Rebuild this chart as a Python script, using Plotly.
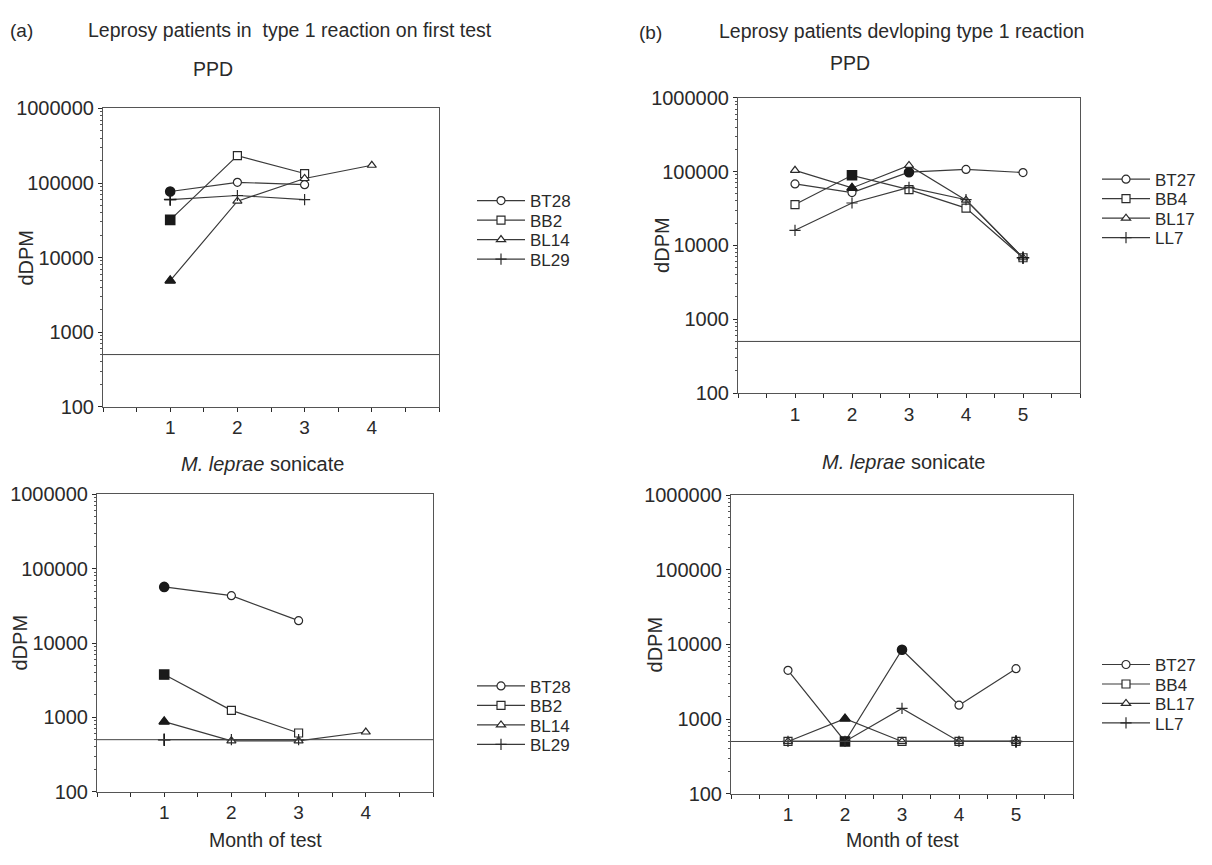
import plotly.graph_objects as go

W, H = 1212, 865

# ---------------- data ----------------
months_a = [1, 2, 3, 4]
months_b = [1, 2, 3, 4, 5]

patients_a = ["BT28", "BB2", "BL14", "BL29"]
patients_b = ["BT27", "BB4", "BL17", "LL7"]

# month at which the type 1 reaction was recorded (drawn as a filled symbol)
reaction_month_a = [1, 1, 1, 1]
reaction_month_b = [3, 2, 2, 5]

# (a) PPD
ppd_a_BT28 = [77000, 102000, 95000]
ppd_a_BB2 = [32000, 233000, 134000]
ppd_a_BL14 = [4900, 57000, 115000, 173000]
ppd_a_BL29 = [60000, 68000, 60000]

# (a) M. leprae sonicate
son_a_BT28 = [56900, 43300, 20000]
son_a_BB2 = [3760, 1240, 615]
son_a_BL14 = [875, 483, 483, 634]
son_a_BL29 = [500, 500, 500]

# (b) PPD
ppd_b_BT27 = [68000, 52000, 98000, 107000, 97000]
ppd_b_BB4 = [35700, 89000, 57000, 32000, 6800]
ppd_b_BL17 = [104000, 60000, 121000, 41000, 6800]
ppd_b_LL7 = [16000, 37500, 61000, 41600, 6800]

# (b) M. leprae sonicate
son_b_BT27 = [4500, 500, 8500, 1535, 4730]
son_b_BB4 = [500, 500, 500, 500, 500]
son_b_BL17 = [500, 1010, 500, 500, 500]
son_b_LL7 = [500, 500, 1390, 500, 500]

cutoff = 500

y_tick_values = [100, 1000, 10000, 100000, 1000000]
y_tick_labels = ["100", "1000", "10000", "100000", "1000000"]

# ---------------- styling / layout helpers ----------------
FONT = "Liberation Sans, Arial, Helvetica, sans-serif"
INK = "#2a2a2a"
symbols = ["circle", "square", "triangle-up", "cross-thin"]


def px(x):
    return x / W


def py(y):
    return 1 - y / H


# panel pixel boxes: (left, right, top, bottom)
panels = [
    dict(box=(103, 439, 100, 406), xmax=5, months=months_a, names=patients_a,
         react=reaction_month_a,
         series=[ppd_a_BT28, ppd_a_BB2, ppd_a_BL14, ppd_a_BL29],
         leg_x=497, leg_y0=195),
    dict(box=(738, 1080, 89, 392), xmax=6, months=months_b, names=patients_b,
         react=reaction_month_b,
         series=[ppd_b_BT27, ppd_b_BB4, ppd_b_BL17, ppd_b_LL7],
         leg_x=1122, leg_y0=173),
    dict(box=(97, 433, 496, 801), xmax=5, months=months_a, names=patients_a,
         react=reaction_month_a,
         series=[son_a_BT28, son_a_BB2, son_a_BL14, son_a_BL29],
         leg_x=497, leg_y0=693),
    dict(box=(731, 1073, 497, 803), xmax=6, months=months_b, names=patients_b,
         react=reaction_month_b,
         series=[son_b_BT27, son_b_BB4, son_b_BL17, son_b_LL7],
         leg_x=1122, leg_y0=671),
]
LEG_STEP = 20

fig = go.Figure()
layout = {}
shapes = []
legend_no = 0

for i, p in enumerate(panels):
    k = "" if i == 0 else str(i + 1)
    xa, ya = "x" + k, "y" + k
    left, right, top, bottom = p["box"]

    half_steps = [j * 0.5 for j in range(int(p["xmax"] * 2) + 1)]
    tick_text = [str(int(v)) if (v == int(v) and 0 < v < p["xmax"]) else "" for v in half_steps]

    layout["xaxis" + k] = dict(
        domain=[px(left), px(right)], anchor=ya, range=[0, p["xmax"]],
        tickmode="array", tickvals=half_steps, ticktext=tick_text,
        ticks="outside", ticklen=4, tickcolor=INK, tickwidth=1,
        showline=True, mirror=True, linecolor="#555", linewidth=1,
        showgrid=False, zeroline=False,
        tickfont=dict(family=FONT, size=19, color=INK),
    )
    minor_vals = [m * 10 ** e for e in range(2, 6) for m in range(2, 10)]
    layout["yaxis" + k] = dict(
        domain=[py(bottom), py(top)], anchor=xa, type="log", range=[2, 6],
        tickmode="array", tickvals=y_tick_values, ticktext=y_tick_labels,
        ticks="outside", ticklen=4, tickcolor=INK, tickwidth=1,
        minor=dict(tickmode="array", tickvals=minor_vals, ticks="outside",
                   ticklen=2, tickcolor="#555", tickwidth=1),
        showline=True, mirror=True, linecolor="#555", linewidth=1,
        showgrid=False, zeroline=False,
        tickfont=dict(family=FONT, size=20, color=INK),
    )

    # cutoff line
    shapes.append(dict(type="line", xref=xa + " domain", x0=0, x1=1,
                       yref=ya, y0=cutoff, y1=cutoff,
                       line=dict(color="#444", width=1)))

    for s, (name, vals) in enumerate(zip(p["names"], p["series"])):
        legend_no += 1
        lname = "legend" if legend_no == 1 else "legend" + str(legend_no)
        xs = p["months"][:len(vals)]
        sym = symbols[s]
        fig.add_trace(go.Scatter(
            x=xs, y=vals, mode="lines+markers", name=name,
            xaxis=xa, yaxis=ya, legend=lname,
            line=dict(color="#3a3a3a", width=1.2),
            marker=dict(symbol=sym, size=8, color="white",
                        line=dict(color="#2a2a2a", width=1.2)),
        ))
        # filled symbol at the reaction month
        rm = p["react"][s]
        if rm in xs:
            j = xs.index(rm)
            fig.add_trace(go.Scatter(
                x=[xs[j]], y=[vals[j]], mode="markers", showlegend=False,
                xaxis=xa, yaxis=ya,
                marker=dict(symbol=sym, size=9, color="#1a1a1a",
                            line=dict(color="#1a1a1a", width=1.6)),
            ))
        layout[lname] = dict(
            x=px(p["leg_x"] - 25), xanchor="left",
            y=py(p["leg_y0"] + s * LEG_STEP), yanchor="middle",
            bgcolor="rgba(0,0,0,0)", borderwidth=0, itemwidth=48,
            font=dict(family=FONT, size=17, color=INK),
        )

ann = []


def text(x, y, t, size=19, anchor="left", angle=0):
    ann.append(dict(xref="paper", yref="paper", x=px(x), y=py(y), text=t,
                    showarrow=False, xanchor=anchor, yanchor="middle",
                    textangle=angle,
                    font=dict(family=FONT, size=size, color=INK)))


text(8, 20, "(a)", 19)
text(86, 20, "Leprosy patients in&nbsp; type 1 reaction on first test", 19.5)
text(213, 60, "PPD", 19.5, "center")
text(637, 22, "(b)", 19)
text(717, 21, "Leprosy patients devloping type 1 reaction", 19.5)
text(850, 53, "PPD", 19.5, "center")
text(262, 465, "<i>M. leprae</i> sonicate", 20, "center")
text(903, 463, "<i>M. leprae</i> sonicate", 20, "center")
text(265, 851, "Month of test", 19.5, "center")
text(902, 851, "Month of test", 19.5, "center")
text(26, 253, "dDPM", 20, "center", -90)
text(662, 240, "dDPM", 20, "center", -90)
text(20, 648, "dDPM", 20, "center", -90)
text(655, 650, "dDPM", 20, "center", -90)

fig.update_layout(
    width=W, height=H, margin=dict(l=0, r=0, t=0, b=0),
    paper_bgcolor="white", plot_bgcolor="white",
    showlegend=True, shapes=shapes, annotations=ann,
    font=dict(family=FONT, color=INK),
    **layout,
)

fig.write_html("out.html")
